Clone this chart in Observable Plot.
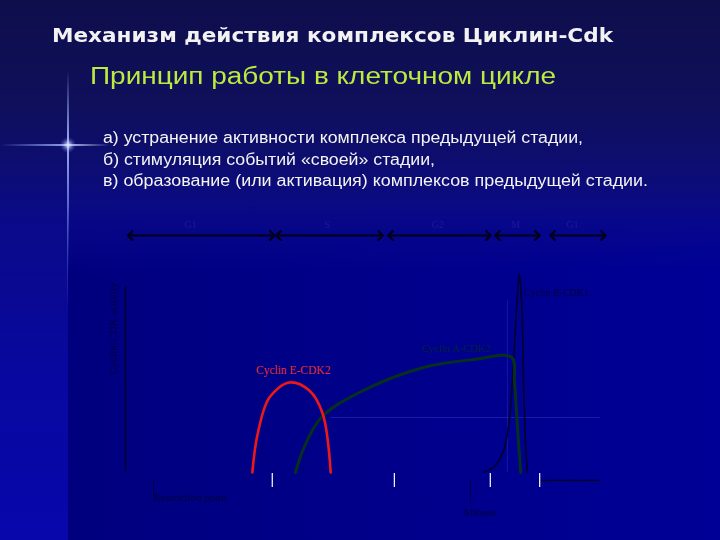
<!DOCTYPE html>
<html><head><meta charset="utf-8">
<script src="https://cdn.jsdelivr.net/npm/d3@7"></script>
<script src="https://cdn.jsdelivr.net/npm/@observablehq/plot@0.6"></script>
<style>
html,body{margin:0;padding:0;}
body{width:720px;height:540px;position:relative;overflow:hidden;
 background:linear-gradient(180deg,#0e0e4c 0%,#0f0f5a 18%,#0d0d70 30%,#0a0a88 40%,#0808a0 70%,#0707ac 100%);
 font-family:"Liberation Sans",Arial,sans-serif;}
.t{position:absolute;white-space:nowrap;transform-origin:0 50%;line-height:1;}
#chartbox{position:absolute;left:68px;top:205px;width:652px;height:335px;}
#chartbg{position:absolute;left:0;top:0;width:652px;height:335px;
 background:linear-gradient(90deg,#00007e 0%,#000088 40%,#000096 100%);
 -webkit-mask-image:linear-gradient(180deg,rgba(0,0,0,0) 0px,rgba(0,0,0,1) 70px);
 mask-image:linear-gradient(180deg,rgba(0,0,0,0) 0px,rgba(0,0,0,1) 70px);}
.glow{position:absolute;pointer-events:none;}
</style></head>
<body>
<div class="glow" style="left:67px;top:70px;width:2px;height:240px;background:linear-gradient(180deg,rgba(120,150,255,0) 0%,rgba(170,190,255,0.9) 30%,rgba(140,160,255,0.55) 60%,rgba(120,150,255,0) 100%);"></div>
<div class="glow" style="left:0px;top:144px;width:110px;height:2px;background:linear-gradient(90deg,rgba(120,150,255,0) 0%,rgba(160,180,255,0.8) 55%,rgba(200,210,255,0.9) 62%,rgba(120,150,255,0) 100%);"></div>
<div class="glow" style="left:60px;top:137px;width:16px;height:16px;border-radius:50%;background:radial-gradient(circle,rgba(230,235,255,0.95) 0%,rgba(150,170,255,0.3) 45%,rgba(100,120,255,0) 70%);"></div>
<div id="chartbox"><div id="chartbg"></div></div>
<div class="t" id="title" data-w="561" style="left:52px;top:25px;font-family:'DejaVu Sans',sans-serif;font-weight:bold;font-size:20px;color:#f2f2f2;">Механизм действия комплексов Циклин-Cdk</div>
<div class="t" id="sub" data-w="466" style="left:90px;top:65px;font-size:23px;color:#bdea3e;">Принцип работы в клеточном цикле</div>
<div class="t" id="l1" data-w="480" style="left:103px;top:130px;font-family:'Liberation Sans Narrow','Liberation Sans',sans-serif;font-size:16px;color:#f4f4f4;">а) устранение активности комплекса предыдущей стадии,</div>
<div class="t" id="l2" data-w="332" style="left:103px;top:152px;font-family:'Liberation Sans Narrow','Liberation Sans',sans-serif;font-size:16px;color:#f4f4f4;">б) стимуляция событий «своей» стадии,</div>
<div class="t" id="l3" data-w="545" style="left:103px;top:173px;font-family:'Liberation Sans Narrow','Liberation Sans',sans-serif;font-size:16px;color:#f4f4f4;">в) образование (или активация) комплексов предыдущей стадии.</div>
<script>
// ---- data (cell-cycle time 0..100, activity 0..100) ----
const phaseNames = ["G1", "S", "G2", "M", "G1"];
const phaseStart = [1.0, 32.2, 55.8, 78.3, 89.9];
const phaseEnd   = [30.9, 53.7, 76.4, 86.7, 100.6];
const phaseLabelX = [13.7, 42.5, 65.7, 82.1, 94.1];
const boundaryTicks = [30.9, 56.6, 76.8, 87.2];

const cyclinE_t = [26.7, 27.8, 30.3, 34.5, 38.7, 41.5, 43.2];
const cyclinE_v = [0, 19, 37.5, 45, 41, 29.5, 0];

const cyclinA_t = [35.8, 37.5, 41.2, 48.8, 62.7, 73.3, 81.3, 81.9, 82.6, 83.2];
const cyclinA_v = [0, 12, 27.5, 39.5, 52.5, 56.5, 57.5, 45, 20, 0];

const cyclinB_t = [75.4, 77.9, 79.6, 80.8, 81.7, 82.3, 82.7, 82.9, 83.4, 83.8, 84.2, 84.6];
const cyclinB_v = [0, 3.5, 11, 26, 56, 81, 93.5, 99.5, 86, 46, 16, 0];

const seriesLabels = ["Cyclin E-CDK2", "Cyclin A-CDK2", "Cyclin B-CDK1"];
const seriesLabelX = [35.3, 69.6, 83.9];
const seriesLabelY = [51, 62, 90];
const yLabel = "Cyclin-CDK activity";
const bottomLabels = ["Restriction point", "Mitosis"];
const bottomLabelX = [5.9, 71.2];
const bottomLabelY = [-12.5, -20];
const bottomMarkX = [5.9, 72.6];
const bottomMarkY2 = [-12, -15.5];

const pts = (ts, vs) => ts.map((t, i) => ({t, v: vs[i]}));
const phases = phaseNames.map((n, i) => ({n, a: phaseStart[i], b: phaseEnd[i], lx: phaseLabelX[i]}));
const labels = seriesLabels.map((s, i) => ({s, x: seriesLabelX[i], y: seriesLabelY[i]}));
const bottoms = bottomLabels.map((s, i) => ({s, x: bottomLabelX[i], y: bottomLabelY[i], mx: bottomMarkX[i], my: bottomMarkY2[i]}));

const chart = Plot.plot({
  width: 652, height: 335,
  marginLeft: 57, marginRight: 120, marginTop: 67, marginBottom: 68,
  x: {domain: [0, 100], axis: null},
  y: {domain: [0, 100], axis: null},
  style: {background: "transparent", overflow: "visible", fontFamily: "'Liberation Serif',serif"},
  marks: [
    // faint guides
    Plot.ruleY([27.5], {x1: 43.2, x2: 100, stroke: "#3a3ad0", strokeOpacity: 0.45, strokeWidth: 1}),
    Plot.ruleX([80.4], {y1: 0, y2: 86, stroke: "#3a3ad0", strokeOpacity: 0.35, strokeWidth: 1}),
    Plot.ruleY([-4], {x1: 87.4, x2: 100, stroke: "#00002e", strokeWidth: 1.5}),
    // y axis line
    Plot.ruleX([0], {y1: 0, y2: 93, stroke: "#000040", strokeWidth: 2}),
    Plot.text([yLabel], {x: -2.6, y: 72, rotate: -90, fill: "#000045", fontSize: 11}),
    // phase arrows
    Plot.link(phases, {x1: "a", x2: "b", y1: 118.5, y2: 118.5, stroke: "#000018", strokeWidth: 2.2,
      markerStart: "arrow-reverse", markerEnd: "arrow", clip: false}),
    Plot.text(phases, {x: "lx", y: 124, text: "n", fill: "#1a1a9a", fontSize: 10}),
    // boundary ticks
    Plot.ruleX(boundaryTicks, {y1: -0.5, y2: -7.5, stroke: "white", strokeWidth: 1.2}),
    // bottom annotations
    Plot.link(bottoms, {x1: "mx", x2: "mx", y1: -4, y2: "my", stroke: "#000040", strokeWidth: 1}),
    Plot.text(bottoms, {x: "x", y: "y", text: "s", textAnchor: "start", fill: "#000040", fontSize: 11}),
    // curves
    Plot.line(pts(cyclinB_t, cyclinB_v), {x: "t", y: "v", stroke: "#00002a", strokeWidth: 1.6, curve: "catmull-rom"}),
    Plot.line(pts(cyclinA_t, cyclinA_v), {x: "t", y: "v", stroke: "#06301e", strokeWidth: 3, curve: "catmull-rom"}),
    Plot.line(pts(cyclinE_t, cyclinE_v), {x: "t", y: "v", stroke: "#ee1818", strokeWidth: 2.6, curve: "catmull-rom"}),
    Plot.text(labels.slice(0, 1), {x: "x", y: "y", text: "s", fill: "#e03030", fontSize: 11.5}),
    Plot.text(labels.slice(1, 2), {x: "x", y: "y", text: "s", fill: "#03203a", fontSize: 10.5}),
    Plot.text(labels.slice(2, 3), {x: "x", y: "y", text: "s", textAnchor: "start", fill: "#000040", fontSize: 10})
  ]
});
chart.style.position = "absolute";
chart.style.left = "0px";
chart.style.top = "0px";
document.getElementById("chartbox").appendChild(chart);

// fit text widths
for (const id of ["title", "sub", "l1", "l2", "l3"]) {
  const el = document.getElementById(id);
  const w = el.getBoundingClientRect().width;
  const target = +el.dataset.w;
  el.style.transform = `scaleX(${target / w})`;
}
</script>
</body></html>
